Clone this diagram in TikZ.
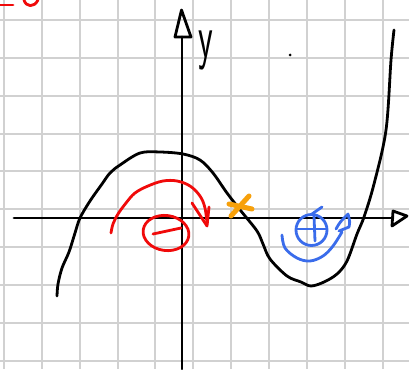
\documentclass[tikz,border=0pt]{standalone}
\usepackage{fontspec}
\begin{document}
\begin{tikzpicture}[x=1pt,y=-1pt,
  gridline/.style={draw=black!18,line width=2pt},
  ink/.style={line width=2.8pt,line cap=round,line join=round},
  blackink/.style={ink,draw=black}]
\definecolor{bluepen}{RGB}{58,108,235}
\definecolor{orangepen}{RGB}{247,160,10}
\definecolor{redpen}{RGB}{240,10,10}
\tikzset{redink/.style={ink,draw=redpen},blueink/.style={ink,draw=bluepen},orangeink/.style={ink,draw=orangepen,line width=5pt}}
\useasboundingbox[fill=white] (0,0) rectangle (409,369);
% grid
\foreach \k in {0,...,10} {\draw[gridline] ({4+37.85*\k},0) -- ({4+37.85*\k},369);}
\foreach \k in {0,...,9} {\draw[gridline] (0,{20+37.85*\k}) -- (409,{20+37.85*\k});}
% axes
\coordinate (xs) at (14,218);
\coordinate (xe) at (393,218);
\coordinate (ys) at (182,369);
\coordinate (ye) at (182,37);
\draw[blackink] (xs) -- (xe);
\draw[blackink] (393,211) -- (407,216) -- (392,226) -- cycle;
\draw[blackink] (ys) -- (ye);
\draw[blackink] (181.5,10) -- (175,37) -- (191,37) -- cycle;
\node[anchor=center,xscale=0.55,inner sep=0] (ylab) at (206,50) {\fontsize{62}{62}\sffamily y};
% dot
\fill (290,55) circle (1.5);
% curve
\draw[blackink] plot[smooth,tension=0.55] coordinates {(57,296) (58,284) (62,268) (69,252) (75,233) (80,218) (90,201) (102,184) (110,173) (120,165) (140,153) (160,152) (183,154) (200,160) (213,173) (227,193) (241,211) (257,231) (263,244) (270,259) (287,276) (301,282) (311,286) (324,282) (337,274) (347,261) (357,234) (364,217) (374,184) (386,130) (391,60) (394,30)};
% red marks
\draw[redink] (0,5) -- (13,5);
\draw[redink] (24,0) .. controls (26,7) and (34,8) .. (38,0);
\draw[redink] plot[smooth,tension=0.6] coordinates {(111,233) (113,224) (118,214) (126,203) (135,193) (148,186) (163,181) (177,181) (190,186) (200,196) (205,208) (207,224)};
\draw[redink] (192,203) -- (207,226) -- (209,207);
\draw[redink,rotate around={-8:(166,233)}] (166,233) ellipse (23 and 17.5);
\draw[redink] (153,234) -- (181,228);
% orange cross
\draw[orangeink] (231,216) -- (249,196);
\draw[orangeink] (229,204) -- (252,209);
% blue marks
\draw[blueink] (311.5,230) circle (15.5);
\draw[blueink] (297,229) -- (326,229);
\draw[blueink] (314,216) -- (315,241);
\draw[blueink] (322,207) -- (312,214);
\draw[blueink] plot[smooth,tension=0.6] coordinates {(282,235) (285,248) (297,258) (310,261) (323,256) (333,246) (342,232)};
\draw[blueink] (336,229) .. controls (340,222) .. (348,214) .. controls (350,222) .. (349,227) -- (339,231);
\end{tikzpicture}
\end{document}
